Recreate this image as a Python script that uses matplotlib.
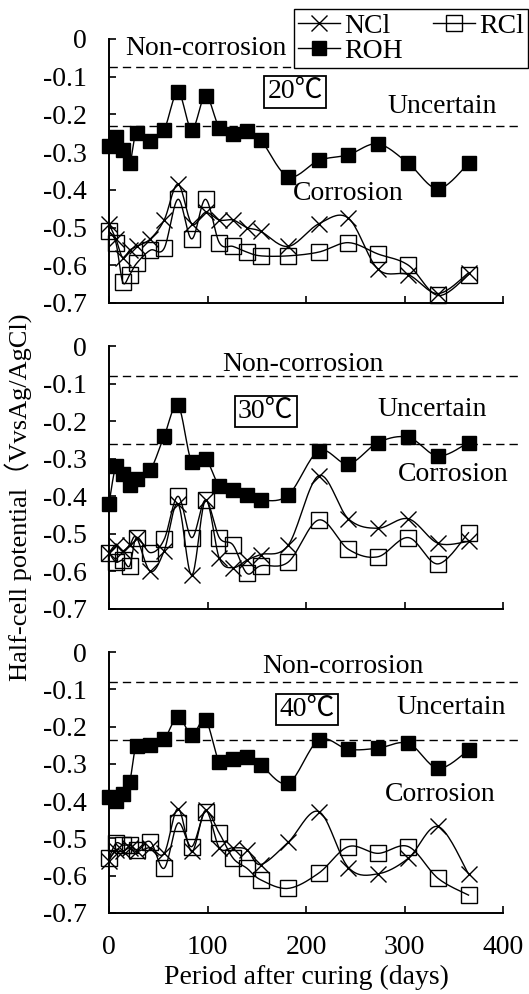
import numpy as np
import matplotlib
matplotlib.use('Agg')
import matplotlib.pyplot as plt
from matplotlib.lines import Line2D

plt.rcParams['font.family'] = ['Liberation Serif', 'Noto Sans CJK SC']
plt.rcParams['axes.unicode_minus'] = False
plt.rcParams['font.size'] = 20

# ---------------- data ----------------
days = [0, 7, 14, 21, 28, 42, 56, 70, 84, 98, 112, 126, 140, 154,
        182, 213, 243, 273, 304, 334, 365]

ncl_20 = [-0.49, -0.53, -0.58, -0.56, -0.55, -0.53, -0.48, -0.385, -0.49, -0.46, -0.48,
          -0.48, -0.50, -0.51, -0.55, -0.49, -0.475, -0.61, -0.625, -0.675, -0.62]
rcl_20 = [-0.51, -0.54, -0.645, -0.625, -0.595, -0.56, -0.555, -0.425, -0.53, -0.425, -0.54,
          -0.55, -0.565, -0.575, -0.575, -0.565, -0.54, -0.57, -0.60, -0.68, -0.625]
roh_20 = [-0.285, -0.26, -0.295, -0.33, -0.25, -0.27, -0.24, -0.14, -0.24, -0.15, -0.235,
          -0.252, -0.245, -0.267, -0.365, -0.322, -0.307, -0.278, -0.33, -0.397, -0.33]

ncl_30 = [-0.55, -0.53, -0.545, -0.53, -0.51, -0.60, -0.545, -0.42, -0.61, -0.41, -0.565,
          -0.59, -0.57, -0.555, -0.53, -0.345, -0.46, -0.485, -0.46, -0.525, -0.52]
rcl_30 = [-0.55, -0.575, -0.57, -0.585, -0.51, -0.55, -0.515, -0.40, -0.51, -0.41, -0.51,
          -0.53, -0.605, -0.585, -0.575, -0.463, -0.541, -0.561, -0.51, -0.58, -0.497]
roh_30 = [-0.42, -0.32, -0.34, -0.37, -0.355, -0.33, -0.24, -0.157, -0.31, -0.30, -0.373,
          -0.383, -0.397, -0.41, -0.397, -0.279, -0.314, -0.257, -0.243, -0.293, -0.257]

ncl_40 = [-0.56, -0.53, -0.535, -0.525, -0.535, -0.525, -0.54, -0.42, -0.535, -0.425, -0.525,
          -0.525, -0.53, -0.57, -0.51, -0.428, -0.578, -0.595, -0.553, -0.468, -0.595]
rcl_40 = [-0.553, -0.513, -0.518, -0.518, -0.53, -0.509, -0.58, -0.459, -0.522, -0.428, -0.486,
          -0.553, -0.58, -0.611, -0.634, -0.593, -0.522, -0.54, -0.522, -0.607, -0.652]
roh_40 = [-0.39, -0.40, -0.38, -0.348, -0.252, -0.249, -0.234, -0.173, -0.223, -0.182, -0.294,
          -0.288, -0.282, -0.303, -0.352, -0.236, -0.261, -0.258, -0.245, -0.312, -0.263]

temps = ['20℃', '30℃', '40℃']
upper_limit = [-0.075, -0.08, -0.08]
lower_limit = [-0.23, -0.26, -0.235]
series_labels = ['NCl', 'RCl', 'ROH']
yticks = [0, -0.1, -0.2, -0.3, -0.4, -0.5, -0.6, -0.7]
ytick_labels = ['0', '-0.1', '-0.2', '-0.3', '-0.4', '-0.5', '-0.6', '-0.7']
xticks = [0, 100, 200, 300, 400]

panels = [(ncl_20, rcl_20, roh_20), (ncl_30, rcl_30, roh_30), (ncl_40, rcl_40, roh_40)]

# ---------------- layout ----------------
W, H = 529, 994
fig = plt.figure(figsize=(W / 100, H / 100), dpi=100)
L, R = 109 / W, 503 / W
axes_px = [(39, 303), (346, 609), (652, 913)]

# text layout per panel: (x, y) in data coords
noncorr_pos = [(16, -0.025), (115, -0.05), (156, -0.04)]
uncert_pos = [(283, -0.18), (273, -0.17), (292, -0.15)]
corr_pos = [(187, -0.41), (293, -0.343), (280, -0.383)]
temp_pos = [(189, -0.14), (159, -0.174), (201, -0.154)]


def smooth(ax, x, y, n=20):
    pts = ax.transData.transform(np.column_stack([x, y]))
    P = np.vstack([pts[0], pts, pts[-1]])
    out = []
    t = np.linspace(0, 1, n)[:, None]
    for i in range(1, len(P) - 2):
        p0, p1, p2, p3 = P[i - 1], P[i], P[i + 1], P[i + 2]
        c1 = p1 + (p2 - p0) / 6
        c2 = p2 - (p3 - p1) / 6
        seg = (1 - t) ** 3 * p1 + 3 * (1 - t) ** 2 * t * c1 + 3 * (1 - t) * t ** 2 * c2 + t ** 3 * p2
        out.append(seg if i == 1 else seg[1:])
    curve = np.vstack(out)
    d = ax.transData.inverted().transform(curve)
    return d[:, 0], d[:, 1]


styles = [dict(marker='x', ms=11, mew=1.0, mfc='none'),
          dict(marker='s', ms=11, mew=1.0, mfc='none'),
          dict(marker='s', ms=10, mew=1.0, mfc='black')]

for k, (top, bot) in enumerate(axes_px):
    ax = fig.add_axes([L, 1 - bot / H, R - L, (bot - top) / H])
    ax.set_xlim(0, 400)
    ax.set_ylim(-0.7, 0)
    for s in ['top', 'right']:
        ax.spines[s].set_visible(False)
    for s in ['left', 'bottom']:
        ax.spines[s].set_linewidth(1.4)
    ax.set_yticks(yticks)
    ax.set_yticklabels(ytick_labels)
    ax.set_xticks(xticks)
    ax.tick_params(direction='in', length=5, width=1.2, labelsize=20)
    ax.tick_params(axis='y', pad=16)
    ax.tick_params(axis='x', pad=16)
    if k < 2:
        ax.set_xticklabels([])
    else:
        ax.set_xlabel('Period after curing (days)', fontsize=20, labelpad=3)

    for lim in (upper_limit[k], lower_limit[k]):
        ax.plot([0, 416], [lim, lim], color='black', lw=1.0, ls=(0, (6, 3.6)), clip_on=False, zorder=1)

    for vals, st in zip(panels[k], styles):
        sx, sy = smooth(ax, days, vals)
        ax.plot(sx, sy, color='black', lw=1.0, zorder=2, clip_on=False)
        ax.plot(days, vals, ls='none', color='black', mec='black', zorder=3, clip_on=False, **st)

    ax.text(*noncorr_pos[k], 'Non-corrosion', fontsize=20, ha='left', va='center')
    ax.text(*uncert_pos[k], 'Uncertain', fontsize=20, ha='left', va='center')
    ax.text(*corr_pos[k], 'Corrosion', fontsize=20, ha='left', va='center')
    ax.text(*temp_pos[k], temps[k], fontsize=20, ha='center', va='center',
            bbox=dict(boxstyle='square,pad=0.12', fc='white', ec='black', lw=1.3))

fig.text(0.036, 1 - 497 / H, 'Half-cell potential（VvsAg/AgCl)', rotation=90, ha='center',
         va='center', fontsize=19)

handles = [Line2D([], [], color='black', lw=1.0, **styles[0]),
           Line2D([], [], color='black', lw=1.0, **styles[2]),
           Line2D([], [], color='black', lw=1.0, **styles[1])]
labels = [series_labels[0], series_labels[2], series_labels[1]]
leg = fig.legend(handles, labels, ncol=2, loc='upper right', bbox_to_anchor=(528 / W, 1 - 9 / H),
                 frameon=True, fancybox=False, edgecolor='black', framealpha=1,
                 handlelength=1.5, handletextpad=0.15, columnspacing=1.1, borderpad=0.15,
                 labelspacing=0.0, borderaxespad=0, fontsize=20)
leg.get_frame().set_linewidth(1.0)

fig.savefig('out.png', dpi=100)
